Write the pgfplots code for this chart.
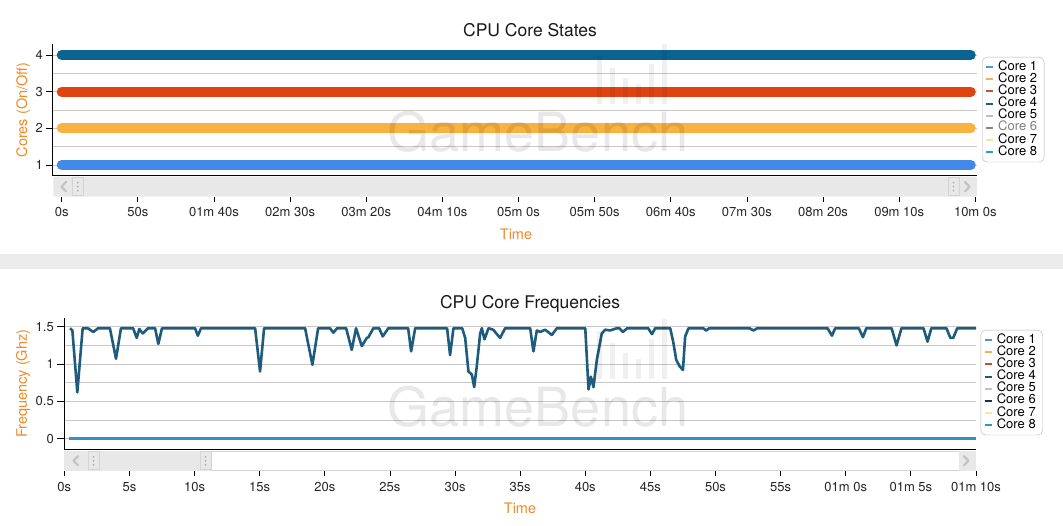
\documentclass[border=0pt]{standalone}
\usepackage{pgfplots}
\pgfplotsset{compat=1.18}
\usepackage{fontspec}
\setmainfont{TeX Gyre Heros}

\definecolor{lineA}{HTML}{4389E8}
\definecolor{lineB}{HTML}{F9B13F}
\definecolor{lineC}{HTML}{DF4410}
\definecolor{lineD}{HTML}{0C6391}
\definecolor{lgA}{HTML}{5590D8}
\definecolor{lgB}{HTML}{EDB45C}
\definecolor{lgC}{HTML}{BF5230}
\definecolor{lgD}{HTML}{1F5A7A}
\definecolor{lgE}{HTML}{C0C0C0}
\definecolor{lgF}{HTML}{888888}
\definecolor{lgFb}{HTML}{1A3050}
\definecolor{lgG}{HTML}{F5E3A8}
\definecolor{lgH}{HTML}{3595C5}
\definecolor{freq}{HTML}{1E5B7D}
\definecolor{base}{HTML}{3590C0}
\definecolor{lbl}{HTML}{F08A24}
\definecolor{gridgray}{HTML}{C8C8C8}
\definecolor{sbgray}{HTML}{E8E8E8}
\definecolor{sbborder}{HTML}{D4D4D4}
\definecolor{chev}{HTML}{C4C4C4}
\definecolor{sepgray}{HTML}{EBEBEB}

\newcommand\fs[1]{\fontsize{#1}{#1}\selectfont}

\pgfplotsset{
  chart/.style={
    scale only axis, clip=false,
    axis lines=left, axis line style={-, black, line width=0.9pt},
    xtick style={draw=none}, xtick align=inside,
    ytick align=outside, ytick style={black, line width=0.8pt},
    minor tick length=0pt,
    ymajorgrids, yminorgrids,
    major grid style={gridgray, line width=0.8pt},
    minor grid style={gridgray, line width=0.8pt},
    tick label style={font=\fs{13}, text=black!85},
    xticklabel style={anchor=base},
    /pgf/number format/assume math mode=true,
    legend cell align=left,
    legend style={anchor=north west, draw=gray!60, rounded corners=5pt,
      fill=white, font=\fs{13}, inner xsep=3pt, inner ysep=4pt,
      nodes={inner ysep=0pt, inner xsep=4pt, text height=9.3pt, text depth=2.8pt}},
    legend image code/.code={\draw[##1, line width=2pt, line cap=butt] (0pt,0pt) -- (7pt,0pt);},
  },
}

\begin{document}
\begin{tikzpicture}[x=1pt,y=1pt]
\useasboundingbox (0,0) rectangle (1063,525);
\fill[white] (0,0) rectangle (1063,525);
\fill[sepgray] (0,256) rectangle (1063,271);

% ---------- CPU Core States ----------
\begin{axis}[chart,
  at={(52.3pt,350pt)}, anchor=south west,
  width=924.7pt, height=131pt,
  xmin=-6.17, xmax=601.1, ymin=0.727, ymax=4.30,
  xtick={0,50,...,600},
  xticklabels={0s,50s,01m 40s,02m 30s,03m 20s,04m 10s,05m 0s,05m 50s,06m 40s,07m 30s,08m 20s,09m 10s,10m 0s},
  xticklabel style={yshift=-41.3pt},
  ytick={1,2,3,4}, minor ytick={1.5,2.5,3.5},
  major tick length=6pt,
  legend style={at={(1.0054,0.9008)}},
]
\addlegendimage{lgA}\addlegendentry{Core 1}
\addlegendimage{lgB}\addlegendentry{Core 2}
\addlegendimage{lgC}\addlegendentry{Core 3}
\addlegendimage{lgD}\addlegendentry{Core 4}
\addlegendimage{lgE}\addlegendentry{Core 5}
\addlegendimage{lgF}\addlegendentry{\textcolor{gray}{Core 6}}
\addlegendimage{lgG}\addlegendentry{Core 7}
\addlegendimage{lgH}\addlegendentry{Core 8}
\addplot[lineA, line width=10pt, line cap=round, forget plot] coordinates {(0,1) (597,1)};
\addplot[lineB, line width=10pt, line cap=round, forget plot] coordinates {(0,2) (597,2)};
\addplot[lineC, line width=10pt, line cap=round, forget plot] coordinates {(0,3) (597,3)};
\addplot[lineD, line width=10pt, line cap=round, forget plot] coordinates {(0,4) (597,4)};
\pgfplotsinvokeforeach{0,50,...,600}{
  \draw[black, line width=0.8pt] ({axis cs:#1,1}|-{rel axis cs:0,0}) ++(0pt,-22pt) -- ++(0pt,-5pt);
}
\end{axis}

% ---------- CPU Core Frequencies ----------
\begin{axis}[chart,
  at={(64.3pt,75.7pt)}, anchor=south west,
  width=911.7pt, height=131pt,
  xmin=0, xmax=70, ymin=-0.143, ymax=1.613,
  xtick={0,5,...,70},
  xticklabels={0s,5s,10s,15s,20s,25s,30s,35s,40s,45s,50s,55s,01m 0s,01m 5s,01m 10s},
  xticklabel style={yshift=-42pt},
  ytick={0,0.5,1,1.5}, minor ytick={0.25,0.75,1.25},
  major tick length=7pt,
  legend style={at={(1.0051,0.9107)}},
]
\addlegendimage{lgA}\addlegendentry{Core 1}
\addlegendimage{lgB}\addlegendentry{Core 2}
\addlegendimage{lgC}\addlegendentry{Core 3}
\addlegendimage{lgD}\addlegendentry{Core 4}
\addlegendimage{lgE}\addlegendentry{Core 5}
\addlegendimage{lgFb}\addlegendentry{Core 6}
\addlegendimage{lgG}\addlegendentry{Core 7}
\addlegendimage{lgH}\addlegendentry{Core 8}
\addplot[base, line width=2.6pt, forget plot] coordinates {(0.36,0) (70,0)};
\addplot[freq, line width=2.6pt, line join=round, forget plot] coordinates {
(0.44,1.48) (0.62,1.45) (1.0,0.62) (1.41,1.48) (1.8,1.48) (2.23,1.43) (2.6,1.48)
(3.5,1.48) (3.97,1.07) (4.35,1.48) (5.28,1.48) (5.56,1.35) (5.76,1.47) (6.02,1.41)
(6.43,1.48) (6.97,1.48) (7.22,1.27) (7.5,1.48) (10.04,1.48) (10.25,1.38) (10.5,1.48)
(14.65,1.48) (15.03,0.90) (15.34,1.48) (18.49,1.48) (19.05,0.99) (19.49,1.48)
(20.4,1.48) (20.66,1.42) (20.95,1.48) (21.64,1.48) (22.07,1.19) (22.4,1.48)
(22.84,1.24) (23.23,1.35) (23.35,1.36) (23.73,1.48) (24.17,1.48) (24.45,1.37)
(24.88,1.48) (26.4,1.48) (26.63,1.17) (26.94,1.48) (29.39,1.48) (29.62,1.12)
(29.88,1.48) (30.55,1.48) (30.78,1.35) (31.03,0.90) (31.29,0.86) (31.47,0.69)
(31.67,0.97) (31.93,1.41) (32.06,1.48) (32.26,1.33) (32.57,1.48) (32.93,1.46)
(33.46,1.35) (33.85,1.48) (35.77,1.48) (36.02,1.17) (36.28,1.45) (36.54,1.43)
(36.92,1.46) (37.43,1.39) (37.82,1.48) (40.0,1.48) (40.25,0.66) (40.43,0.83)
(40.63,0.69) (40.89,1.06) (41.27,1.41) (41.53,1.46) (41.91,1.45) (42.43,1.48)
(42.6,1.48) (42.89,1.43) (43.22,1.48) (44.83,1.48) (45.12,1.40) (45.37,1.48)
(46.52,1.48) (46.75,1.30) (46.98,1.06) (47.24,0.97) (47.5,0.92) (47.67,1.37)
(47.93,1.48) (49.05,1.48) (49.29,1.45) (49.52,1.48) (52.6,1.48) (52.92,1.45)
(53.2,1.48) (58.6,1.48) (58.94,1.38) (59.19,1.48) (61.0,1.48) (61.32,1.36)
(61.58,1.48) (63.52,1.48) (63.9,1.25) (64.28,1.48) (65.97,1.48) (66.28,1.30)
(66.57,1.48) (67.73,1.48) (68.03,1.35) (68.25,1.35) (68.56,1.48) (70,1.48)};
\pgfplotsinvokeforeach{0,5,...,70}{
  \draw[black, line width=0.8pt] ({axis cs:#1,0}|-{rel axis cs:0,0}) ++(0pt,-21.4pt) -- ++(0pt,-5.3pt);
}
\end{axis}

% ---------- scrollbars ----------
\fill[sbgray, rounded corners=2pt] (53.3,328.3) rectangle (977,348.3);
\draw[chev, line width=2.2pt, line cap=round, line join=round] (66,343) -- (61.5,338.3) -- (66,333.6);
\draw[chev, line width=2.2pt, line cap=round, line join=round] (965,343) -- (969.5,338.3) -- (965,333.6);
\foreach \hx in {72.3,948} {
  \draw[sbborder, fill=sbgray, line width=0.8pt] (\hx,329.3) rectangle ++(11,18);
  \foreach \dy in {-4,0,4} \fill[gray!60] (\hx+5.5,338.3+\dy) circle (1pt);
}
\fill[sbgray] (64.3,54.3) rectangle (211,74);
\draw[sbborder, fill=white, line width=0.8pt] (211,54.7) rectangle (959,73.6);
\fill[sbgray] (959,54.3) rectangle (976,74);
\draw[chev, line width=2.2pt, line cap=round, line join=round] (78,68.8) -- (73.5,64.2) -- (78,59.6);
\draw[chev, line width=2.2pt, line cap=round, line join=round] (964,68.8) -- (968.5,64.2) -- (964,59.6);
\foreach \hx in {88,200} {
  \draw[sbborder, fill=sbgray, line width=0.8pt] (\hx,55.2) rectangle ++(11,18);
  \foreach \dy in {-4,0,4} \fill[gray!60] (\hx+5.5,64.2+\dy) circle (1pt);
}

% ---------- watermark ----------
\foreach \wy in {393,118} {
  \node[text=black, opacity=0.09, font=\fs{54}] at (538,\wy) {GameBench};
  \foreach \bx/\bh in {597/48,610/36,623/26,636/20,649/40,662/60}
    \fill[black, opacity=0.06] (\bx,\wy+28) rectangle ++(5,\bh);
}

% ---------- titles and axis labels ----------
\node[font=\fs{17.5}, text=black!90, anchor=base] at (530,488.3) {CPU Core States};
\node[font=\fs{17.5}, text=black!90, anchor=base] at (530,216) {CPU Core Frequencies};
\node[font=\fs{14.5}, text=lbl, anchor=base] at (516,285) {Time};
\node[font=\fs{14.5}, text=lbl, anchor=base] at (520,11.8) {Time};
\node[font=\fs{14.5}, text=lbl, anchor=base, rotate=90] at (27.2,415) {Cores (On/Off)};
\node[font=\fs{14.5}, text=lbl, anchor=base, rotate=90] at (26.9,141.2) {Frequency (Ghz)};
\end{tikzpicture}
\end{document}
